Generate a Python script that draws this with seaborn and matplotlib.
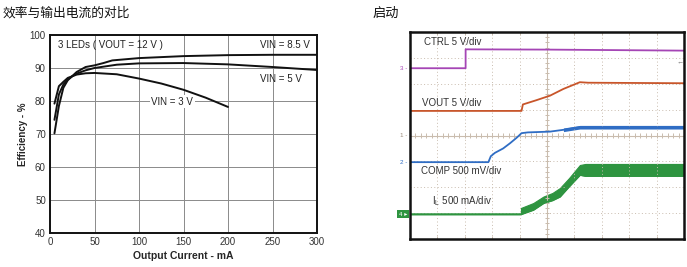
import numpy as np
import pandas as pd
import matplotlib
matplotlib.use("Agg")
import matplotlib.pyplot as plt
import seaborn as sns

sns.set_theme(style="white")
plt.rcParams['font.family'] = ['Liberation Sans', 'Noto Sans CJK SC', 'DejaVu Sans']

# ---------------- Left chart data: efficiency vs output current ----------------
eff_title = "效率与输出电流的对比"
cur_3v = [5, 10, 15, 20, 30, 40, 50, 75, 100, 125, 150, 175, 200]
eff_3v = [79.2, 84.5, 85.8, 87.0, 88.0, 88.4, 88.5, 88.1, 86.8, 85.3, 83.4, 81.0, 78.2]
cur_5v = [5, 10, 15, 20, 25, 30, 40, 50, 75, 100, 150, 200, 250, 300]
eff_5v = [74.3, 82.0, 85.0, 86.5, 87.5, 88.3, 89.3, 90.0, 91.0, 91.4, 91.5, 91.1, 90.3, 89.4]
cur_85v = [5, 10, 15, 20, 30, 40, 50, 60, 70, 100, 150, 200, 250, 300]
eff_85v = [70.2, 78.5, 84.0, 86.3, 88.8, 90.3, 90.8, 91.5, 92.3, 93.0, 93.6, 93.9, 94.0, 94.0]
x_ticks = [0, 50, 100, 150, 200, 250, 300]
y_ticks = [40, 50, 60, 70, 80, 90, 100]

# ---------------- Right chart data: start-up scope traces (divisions) ----------------
scope_title = "启动"
ctrl_t = [0, 2.03, 2.03, 5.0, 10.0]
ctrl_v = [6.6, 6.6, 7.33, 7.32, 7.28]
vout_t = [0, 4.07, 4.12, 4.6, 5.11, 5.6, 6.2, 6.5, 10.0]
vout_v = [4.95, 4.95, 5.2, 5.36, 5.54, 5.8, 6.06, 6.04, 6.02]
comp_t = [0, 2.86, 2.95, 3.1, 3.4, 3.65, 3.9, 4.07, 4.3, 5.11, 5.6, 6.2, 7.0, 10.0]
comp_v = [2.97, 2.97, 3.2, 3.33, 3.5, 3.70, 3.92, 4.09, 4.12, 4.15, 4.22, 4.32, 4.32, 4.32]
il_t = [0, 4.05, 4.05, 4.5, 4.87, 5.2, 5.47, 5.8, 6.2, 6.4, 10.0]
il_lo = [0.96, 0.96, 0.96, 1.13, 1.39, 1.50, 1.64, 2.03, 2.48, 2.44, 2.44]
il_hi = [0.96, 0.96, 1.20, 1.39, 1.64, 1.78, 1.97, 2.35, 2.86, 2.90, 2.90]

fig = plt.figure(figsize=(6.87, 2.67), dpi=100)
fig.patch.set_facecolor("white")

# ================= Left chart =================
ax = fig.add_axes([50/687, 1-233/267, 267/687, 198/267])
df_eff = pd.concat([
    pd.DataFrame({"I": cur_85v, "E": eff_85v, "s": "VIN = 8.5 V"}),
    pd.DataFrame({"I": cur_5v, "E": eff_5v, "s": "VIN = 5 V"}),
    pd.DataFrame({"I": cur_3v, "E": eff_3v, "s": "VIN = 3 V"}),
])
sns.lineplot(data=df_eff, x="I", y="E", hue="s", units="s", estimator=None,
             palette=["#111111"]*3, linewidth=1.4, legend=False, ax=ax, sort=False)
ax.set_xlim(0, 300)
ax.set_ylim(40, 100)
ax.set_xticks(x_ticks)
ax.set_yticks(y_ticks)
ax.grid(True, color="#8a8a8a", linewidth=0.7)
ax.set_axisbelow(True)
for sp in ax.spines.values():
    sp.set_color("#111111")
    sp.set_linewidth(1.4)
ax.tick_params(axis="both", labelsize=7, length=0, pad=3, colors="#333333")
ax.set_xlabel("Output Current - mA", fontsize=7.5, fontweight="bold", labelpad=3)
ax.set_ylabel("Efficiency - %", fontsize=7, fontweight="bold", labelpad=1)
ax.text(9, 96.9, "3 LEDs ( VOUT = 12 V )", fontsize=7, va="center", color="#222222")
ax.text(236, 97.1, "VIN = 8.5 V", fontsize=7, va="center", color="#222222")
ax.text(236, 86.8, "VIN = 5 V", fontsize=7, va="center", color="#222222")
ax.text(114, 79.8, "VIN = 3 V", fontsize=7, va="center", color="#222222",
        bbox=dict(facecolor="white", edgecolor="none", pad=1.0))
fig.text(3/687, 1-13/267, eff_title, fontsize=9.2, va="center", ha="left",
         family=['Noto Sans CJK SC', 'DejaVu Sans'], color="#111111")

# ================= Right chart =================
bx = fig.add_axes([410/687, 1-239/267, 274/687, 207/267])
bx.set_xlim(0, 10)
bx.set_ylim(0, 8)
bx.set_xticks([])
bx.set_yticks([])
for sp in bx.spines.values():
    sp.set_color("#111111")
    sp.set_linewidth(1.8)
grid_c = "#c9bcae"
for gx in range(1, 10):
    if gx != 5:
        bx.axvline(gx, color=grid_c, linewidth=0.7, linestyle=(0, (1, 2.5)))
for gy in range(1, 8):
    if gy != 4:
        bx.axhline(gy, color=grid_c, linewidth=0.7, linestyle=(0, (1, 2.5)))
bx.axvline(5, color=grid_c, linewidth=0.8)
bx.axhline(4, color=grid_c, linewidth=0.8)
mx = np.arange(0.2, 10, 0.2)
my = np.arange(0.2, 8, 0.2)
bx.vlines(mx, 4 - 0.09, 4 + 0.09, color=grid_c, linewidth=0.7)
bx.hlines(my, 5 - 0.09, 5 + 0.09, color=grid_c, linewidth=0.7)
bx.vlines(np.arange(1, 10), 8 - 0.12, 8, color=grid_c, linewidth=0.7)
bx.vlines(np.arange(1, 10), 0, 0.12, color=grid_c, linewidth=0.7)

c_ctrl = "#a545b5"
c_vout = "#c8552a"
c_comp = "#2f6dc4"
c_il = "#2e9440"

bx.fill_between(il_t, il_lo, il_hi, color=c_il, linewidth=0.8, edgecolor=c_il)
df_scope = pd.concat([
    pd.DataFrame({"t": ctrl_t, "v": ctrl_v, "s": "CTRL"}),
    pd.DataFrame({"t": vout_t, "v": vout_v, "s": "VOUT"}),
    pd.DataFrame({"t": comp_t, "v": comp_v, "s": "COMP"}),
    pd.DataFrame({"t": il_t, "v": il_lo, "s": "IL"}),
])
sns.lineplot(data=df_scope, x="t", y="v", hue="s", units="s", estimator=None,
             palette={"CTRL": c_ctrl, "VOUT": c_vout, "COMP": c_comp, "IL": c_il},
             linewidth=1.3, legend=False, ax=bx, sort=False)
# thicker noisy part of COMP
comp_arr_t = np.array(comp_t)
comp_arr_v = np.array(comp_v)
sel = comp_arr_t >= 5.5
bx.fill_between(comp_arr_t[sel], comp_arr_v[sel] - 0.07, comp_arr_v[sel] + 0.07,
                color=c_comp, linewidth=0)
bx.set_xlabel("t - 2 ms/div", fontsize=7, fontweight="bold", labelpad=5)
bx.set_ylabel("")

bx.text(0.5, 7.6, "CTRL 5 V/div", fontsize=7, va="center", color="#333333")
bx.text(0.45, 5.27, "VOUT 5 V/div", fontsize=7, va="center", color="#333333")
bx.text(0.4, 2.62, "COMP 500 mV/div", fontsize=7, va="center", color="#333333")
bx.text(0.8, 1.45, "I$_\\mathregular{L}$ 500 mA/div", fontsize=7, va="center", color="#333333")

# channel markers
bx.text(-0.08, 6.6, "3 -", fontsize=4.5, ha="right", va="center", color=c_ctrl, clip_on=False)
bx.text(-0.08, 4.0, "1 -", fontsize=4.5, ha="right", va="center", color="#9a8a7a", clip_on=False)
bx.text(-0.08, 2.97, "2 -", fontsize=4.5, ha="right", va="center", color=c_comp, clip_on=False)
bx.text(-0.1, 0.96, "4 \u25b8", fontsize=4.5, ha="right", va="center", color="white", clip_on=False,
        bbox=dict(facecolor=c_il, edgecolor="none", pad=1.2))
bx.text(9.85, 6.85, "\u2190", fontsize=5, ha="center", va="center", color="#777777")

fig.text(373/687, 1-13/267, scope_title, fontsize=9.5, va="center", ha="left",
         family=['Noto Sans CJK SC', 'DejaVu Sans'], color="#111111")

fig.savefig("out.png", dpi=100, facecolor="white")
